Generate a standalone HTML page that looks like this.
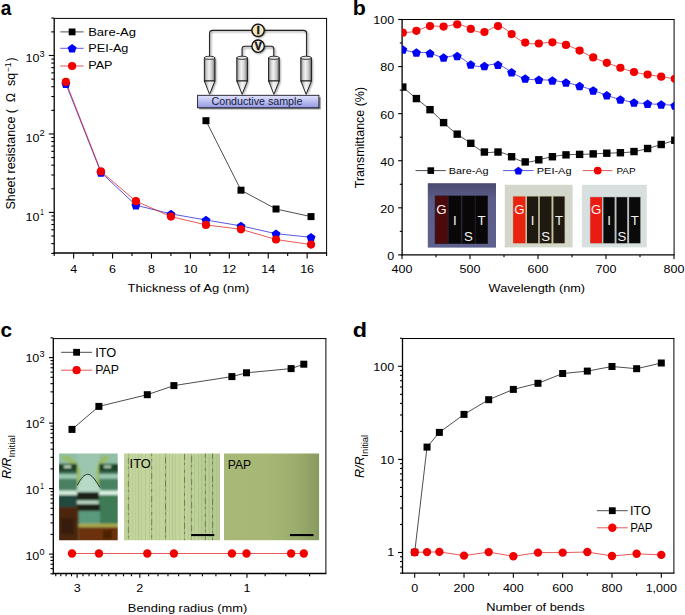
<!DOCTYPE html>
<html><head><meta charset="utf-8"><style>
html,body{margin:0;padding:0;background:#fff;overflow:hidden;}
svg{display:block;}
text{font-family:"Liberation Sans", sans-serif;}
</style></head><body>
<svg width="685" height="615" viewBox="0 0 685 615" font-family='"Liberation Sans", sans-serif'>
<rect width="685" height="615" fill="#fff"/>
<line x1="54.20" y1="17.90" x2="54.20" y2="253.65" stroke="#000" stroke-width="1.3"/>
<line x1="53.55" y1="253.00" x2="327.10" y2="253.00" stroke="#000" stroke-width="1.3"/>
<line x1="54.20" y1="18.40" x2="327.10" y2="18.40" stroke="#000" stroke-width="1.0"/>
<line x1="326.60" y1="18.40" x2="326.60" y2="253.00" stroke="#000" stroke-width="1.0"/>
<line x1="73.66" y1="253.00" x2="73.66" y2="258.40" stroke="#000" stroke-width="1.1"/>
<line x1="112.57" y1="253.00" x2="112.57" y2="258.40" stroke="#000" stroke-width="1.1"/>
<line x1="151.49" y1="253.00" x2="151.49" y2="258.40" stroke="#000" stroke-width="1.1"/>
<line x1="190.40" y1="253.00" x2="190.40" y2="258.40" stroke="#000" stroke-width="1.1"/>
<line x1="229.31" y1="253.00" x2="229.31" y2="258.40" stroke="#000" stroke-width="1.1"/>
<line x1="268.23" y1="253.00" x2="268.23" y2="258.40" stroke="#000" stroke-width="1.1"/>
<line x1="307.14" y1="253.00" x2="307.14" y2="258.40" stroke="#000" stroke-width="1.1"/>
<line x1="54.20" y1="253.00" x2="54.20" y2="255.90" stroke="#000" stroke-width="1.1"/>
<line x1="93.11" y1="253.00" x2="93.11" y2="255.90" stroke="#000" stroke-width="1.1"/>
<line x1="132.03" y1="253.00" x2="132.03" y2="255.90" stroke="#000" stroke-width="1.1"/>
<line x1="170.94" y1="253.00" x2="170.94" y2="255.90" stroke="#000" stroke-width="1.1"/>
<line x1="209.86" y1="253.00" x2="209.86" y2="255.90" stroke="#000" stroke-width="1.1"/>
<line x1="248.77" y1="253.00" x2="248.77" y2="255.90" stroke="#000" stroke-width="1.1"/>
<line x1="287.68" y1="253.00" x2="287.68" y2="255.90" stroke="#000" stroke-width="1.1"/>
<line x1="326.60" y1="253.00" x2="326.60" y2="255.90" stroke="#000" stroke-width="1.1"/>
<line x1="48.80" y1="212.40" x2="54.20" y2="212.40" stroke="#000" stroke-width="1.1"/>
<line x1="48.80" y1="133.95" x2="54.20" y2="133.95" stroke="#000" stroke-width="1.1"/>
<line x1="48.80" y1="55.50" x2="54.20" y2="55.50" stroke="#000" stroke-width="1.1"/>
<line x1="51.30" y1="253.42" x2="54.20" y2="253.42" stroke="#000" stroke-width="1.1"/>
<line x1="51.30" y1="243.62" x2="54.20" y2="243.62" stroke="#000" stroke-width="1.1"/>
<line x1="51.30" y1="236.02" x2="54.20" y2="236.02" stroke="#000" stroke-width="1.1"/>
<line x1="51.30" y1="229.80" x2="54.20" y2="229.80" stroke="#000" stroke-width="1.1"/>
<line x1="51.30" y1="224.55" x2="54.20" y2="224.55" stroke="#000" stroke-width="1.1"/>
<line x1="51.30" y1="220.00" x2="54.20" y2="220.00" stroke="#000" stroke-width="1.1"/>
<line x1="51.30" y1="215.99" x2="54.20" y2="215.99" stroke="#000" stroke-width="1.1"/>
<line x1="51.30" y1="188.78" x2="54.20" y2="188.78" stroke="#000" stroke-width="1.1"/>
<line x1="51.30" y1="174.97" x2="54.20" y2="174.97" stroke="#000" stroke-width="1.1"/>
<line x1="51.30" y1="165.17" x2="54.20" y2="165.17" stroke="#000" stroke-width="1.1"/>
<line x1="51.30" y1="157.57" x2="54.20" y2="157.57" stroke="#000" stroke-width="1.1"/>
<line x1="51.30" y1="151.35" x2="54.20" y2="151.35" stroke="#000" stroke-width="1.1"/>
<line x1="51.30" y1="146.10" x2="54.20" y2="146.10" stroke="#000" stroke-width="1.1"/>
<line x1="51.30" y1="141.55" x2="54.20" y2="141.55" stroke="#000" stroke-width="1.1"/>
<line x1="51.30" y1="137.54" x2="54.20" y2="137.54" stroke="#000" stroke-width="1.1"/>
<line x1="51.30" y1="110.33" x2="54.20" y2="110.33" stroke="#000" stroke-width="1.1"/>
<line x1="51.30" y1="96.52" x2="54.20" y2="96.52" stroke="#000" stroke-width="1.1"/>
<line x1="51.30" y1="86.72" x2="54.20" y2="86.72" stroke="#000" stroke-width="1.1"/>
<line x1="51.30" y1="79.12" x2="54.20" y2="79.12" stroke="#000" stroke-width="1.1"/>
<line x1="51.30" y1="72.90" x2="54.20" y2="72.90" stroke="#000" stroke-width="1.1"/>
<line x1="51.30" y1="67.65" x2="54.20" y2="67.65" stroke="#000" stroke-width="1.1"/>
<line x1="51.30" y1="63.10" x2="54.20" y2="63.10" stroke="#000" stroke-width="1.1"/>
<line x1="51.30" y1="59.09" x2="54.20" y2="59.09" stroke="#000" stroke-width="1.1"/>
<line x1="51.30" y1="31.88" x2="54.20" y2="31.88" stroke="#000" stroke-width="1.1"/>
<line x1="51.30" y1="18.07" x2="54.20" y2="18.07" stroke="#000" stroke-width="1.1"/>
<text x="73.66" y="272.70" font-size="11.80" text-anchor="middle" fill="#000" textLength="6.96" lengthAdjust="spacingAndGlyphs" xml:space="preserve">4</text>
<text x="112.57" y="272.70" font-size="11.80" text-anchor="middle" fill="#000" textLength="6.96" lengthAdjust="spacingAndGlyphs" xml:space="preserve">6</text>
<text x="151.49" y="272.70" font-size="11.80" text-anchor="middle" fill="#000" textLength="6.96" lengthAdjust="spacingAndGlyphs" xml:space="preserve">8</text>
<text x="190.40" y="272.70" font-size="11.80" text-anchor="middle" fill="#000" textLength="13.91" lengthAdjust="spacingAndGlyphs" xml:space="preserve">10</text>
<text x="229.31" y="272.70" font-size="11.80" text-anchor="middle" fill="#000" textLength="13.91" lengthAdjust="spacingAndGlyphs" xml:space="preserve">12</text>
<text x="268.23" y="272.70" font-size="11.80" text-anchor="middle" fill="#000" textLength="13.91" lengthAdjust="spacingAndGlyphs" xml:space="preserve">14</text>
<text x="307.14" y="272.70" font-size="11.80" text-anchor="middle" fill="#000" textLength="13.91" lengthAdjust="spacingAndGlyphs" xml:space="preserve">16</text>
<text x="39.43" y="62.10" font-size="11.80" text-anchor="end" fill="#000" textLength="13.91" lengthAdjust="spacingAndGlyphs" xml:space="preserve">10</text>
<text x="39.63" y="57.00" font-size="8.80" text-anchor="start" fill="#000" textLength="5.09" lengthAdjust="spacingAndGlyphs" xml:space="preserve">3</text>
<text x="39.43" y="141.50" font-size="11.80" text-anchor="end" fill="#000" textLength="13.91" lengthAdjust="spacingAndGlyphs" xml:space="preserve">10</text>
<text x="39.53" y="136.40" font-size="8.80" text-anchor="start" fill="#000" textLength="5.26" lengthAdjust="spacingAndGlyphs" xml:space="preserve">2</text>
<text x="39.43" y="220.80" font-size="11.80" text-anchor="end" fill="#000" textLength="13.91" lengthAdjust="spacingAndGlyphs" xml:space="preserve">10</text>
<text x="40.21" y="215.20" font-size="8.80" text-anchor="start" fill="#000" textLength="3.62" lengthAdjust="spacingAndGlyphs" xml:space="preserve">1</text>
<text x="0.73" y="15.10" font-size="21.00" text-anchor="start" font-weight="bold" fill="#000" textLength="10.60" lengthAdjust="spacingAndGlyphs" xml:space="preserve">a</text>
<text x="15.40" y="209.56" font-size="12.00" text-anchor="start" fill="#000" transform="rotate(-90 15.40 209.56)" textLength="136.87" lengthAdjust="spacingAndGlyphs" xml:space="preserve">Sheet resistance (  Ω  sq</text>
<text x="11.00" y="71.80" font-size="8.20" text-anchor="start" fill="#000" transform="rotate(-90 11.00 71.80)" textLength="9.21" lengthAdjust="spacingAndGlyphs" xml:space="preserve">−1</text>
<text x="15.40" y="61.22" font-size="12.00" text-anchor="start" fill="#000" transform="rotate(-90 15.40 61.22)" textLength="3.84" lengthAdjust="spacingAndGlyphs" xml:space="preserve">)</text>
<text x="127.54" y="291.60" font-size="11.80" text-anchor="start" fill="#000" textLength="121.87" lengthAdjust="spacingAndGlyphs" xml:space="preserve">Thickness of Ag (nm)</text>
<polyline points="205.96,120.70 240.99,190.20 276.01,209.00 311.03,216.60" fill="none" stroke="#000" stroke-width="0.7" stroke-linejoin="round"/>
<polyline points="65.87,83.80 100.90,172.40 135.92,205.20 170.94,213.90 205.96,220.00 240.99,225.90 276.01,233.70 311.03,237.30" fill="none" stroke="#1010dc" stroke-width="0.7" stroke-linejoin="round"/>
<polyline points="65.87,81.90 100.90,171.40 135.92,201.20 170.94,216.60 205.96,224.90 240.99,229.30 276.01,239.50 311.03,244.60" fill="none" stroke="#dc1010" stroke-width="0.7" stroke-linejoin="round"/>
<rect x="202.46" y="117.20" width="7.0" height="7.0" fill="#000"/>
<rect x="237.49" y="186.70" width="7.0" height="7.0" fill="#000"/>
<rect x="272.51" y="205.50" width="7.0" height="7.0" fill="#000"/>
<rect x="307.53" y="213.10" width="7.0" height="7.0" fill="#000"/>
<polygon points="65.87,79.57 70.34,82.82 68.64,88.07 63.11,88.07 61.40,82.82" fill="#0000f2"/>
<polygon points="100.90,168.17 105.37,171.42 103.66,176.67 98.13,176.67 96.43,171.42" fill="#0000f2"/>
<polygon points="135.92,200.97 140.39,204.22 138.68,209.47 133.16,209.47 131.45,204.22" fill="#0000f2"/>
<polygon points="170.94,209.67 175.41,212.92 173.70,218.17 168.18,218.17 166.47,212.92" fill="#0000f2"/>
<polygon points="205.96,215.77 210.43,219.02 208.73,224.27 203.20,224.27 201.49,219.02" fill="#0000f2"/>
<polygon points="240.99,221.67 245.46,224.92 243.75,230.17 238.22,230.17 236.52,224.92" fill="#0000f2"/>
<polygon points="276.01,229.47 280.48,232.72 278.77,237.97 273.25,237.97 271.54,232.72" fill="#0000f2"/>
<polygon points="311.03,233.07 315.50,236.32 313.79,241.57 308.27,241.57 306.56,236.32" fill="#0000f2"/>
<circle cx="65.87" cy="81.90" r="4.1" fill="#f20000"/>
<circle cx="100.90" cy="171.40" r="4.1" fill="#f20000"/>
<circle cx="135.92" cy="201.20" r="4.1" fill="#f20000"/>
<circle cx="170.94" cy="216.60" r="4.1" fill="#f20000"/>
<circle cx="205.96" cy="224.90" r="4.1" fill="#f20000"/>
<circle cx="240.99" cy="229.30" r="4.1" fill="#f20000"/>
<circle cx="276.01" cy="239.50" r="4.1" fill="#f20000"/>
<circle cx="311.03" cy="244.60" r="4.1" fill="#f20000"/>
<line x1="60.30" y1="31.90" x2="83.60" y2="31.90" stroke="#000" stroke-width="0.7"/>
<rect x="68.70" y="28.50" width="6.8" height="6.8" fill="#000"/>
<line x1="60.30" y1="48.30" x2="83.60" y2="48.30" stroke="#1010dc" stroke-width="0.7"/>
<polygon points="72.10,44.07 76.57,47.32 74.86,52.57 69.34,52.57 67.63,47.32" fill="#0000f2"/>
<line x1="60.30" y1="66.00" x2="83.60" y2="66.00" stroke="#dc1010" stroke-width="0.7"/>
<circle cx="72.10" cy="66.00" r="4.1" fill="#f20000"/>
<text x="88.16" y="36.20" font-size="11.70" text-anchor="start" fill="#000" textLength="47.77" lengthAdjust="spacingAndGlyphs" xml:space="preserve">Bare-Ag</text>
<text x="88.18" y="52.30" font-size="11.70" text-anchor="start" fill="#000" textLength="40.28" lengthAdjust="spacingAndGlyphs" xml:space="preserve">PEI-Ag</text>
<text x="88.19" y="69.00" font-size="11.70" text-anchor="start" fill="#000" textLength="24.37" lengthAdjust="spacingAndGlyphs" xml:space="preserve">PAP</text>
<defs>
<linearGradient id="cyl" x1="0" x2="1" y1="0" y2="0">
<stop offset="0" stop-color="#7a7a7a"/><stop offset="0.22" stop-color="#cfcfcf"/><stop offset="0.45" stop-color="#f2f2f2"/><stop offset="0.75" stop-color="#c4c4c4"/><stop offset="1" stop-color="#6a6a6a"/></linearGradient>
<linearGradient id="samp" x1="0" x2="0" y1="0" y2="1">
<stop offset="0" stop-color="#e2e4fc"/><stop offset="1" stop-color="#9198e2"/></linearGradient>
<linearGradient id="cone" x1="0" x2="1" y1="0" y2="0">
<stop offset="0" stop-color="#8a8a8a"/><stop offset="0.45" stop-color="#f4f4f4"/><stop offset="1" stop-color="#dcdcdc"/></linearGradient>
<filter id="shd" x="-30%" y="-10%" width="160%" height="130%"><feGaussianBlur stdDeviation="0.8"/></filter>
</defs>
<g filter="url(#shd)" opacity="0.55"><path d="M210.6,57 L210.6,34.5 Q210.6,31.4 213.7,31.4 L304.4,31.4 Q307.6,31.4 307.6,34.5 L307.6,57" fill="none" stroke="#222" stroke-width="1.2"/><path d="M243.1,57 L243.1,50.5 Q243.1,47.7 245.9,47.7 L272.0,47.7 Q274.8,47.7 274.8,50.5 L274.8,57" fill="none" stroke="#222" stroke-width="1.2"/></g>
<path d="M209.6,57 L209.6,33.5 Q209.6,30.4 212.7,30.4 L303.4,30.4 Q306.6,30.4 306.6,33.5 L306.6,57" fill="none" stroke="#222" stroke-width="1.1"/>
<path d="M242.1,57 L242.1,49.1 Q242.1,46.3 244.9,46.3 L271.0,46.3 Q273.8,46.3 273.8,49.1 L273.8,57" fill="none" stroke="#222" stroke-width="1.1"/>
<path d="M205.50,59 L216.10,59 L216.10,82 L210.80,95.5 Z" fill="#000" opacity="0.45" filter="url(#shd)"/>
<rect x="204.30" y="57.8" width="10.6" height="23.2" fill="url(#cyl)" stroke="#111" stroke-width="0.9"/>
<ellipse cx="209.60" cy="57.8" rx="5.30" ry="1.6" fill="#e4e4e4" stroke="#111" stroke-width="0.8"/>
<path d="M204.30,81.0 L214.90,81.0 L209.60,94.3 Z" fill="url(#cone)" stroke="#111" stroke-width="0.9" stroke-linejoin="round"/>
<path d="M238.00,59 L248.60,59 L248.60,82 L243.30,95.5 Z" fill="#000" opacity="0.45" filter="url(#shd)"/>
<rect x="236.80" y="57.8" width="10.6" height="23.2" fill="url(#cyl)" stroke="#111" stroke-width="0.9"/>
<ellipse cx="242.10" cy="57.8" rx="5.30" ry="1.6" fill="#e4e4e4" stroke="#111" stroke-width="0.8"/>
<path d="M236.80,81.0 L247.40,81.0 L242.10,94.3 Z" fill="url(#cone)" stroke="#111" stroke-width="0.9" stroke-linejoin="round"/>
<path d="M269.80,59 L280.40,59 L280.40,82 L275.10,95.5 Z" fill="#000" opacity="0.45" filter="url(#shd)"/>
<rect x="268.60" y="57.8" width="10.6" height="23.2" fill="url(#cyl)" stroke="#111" stroke-width="0.9"/>
<ellipse cx="273.90" cy="57.8" rx="5.30" ry="1.6" fill="#e4e4e4" stroke="#111" stroke-width="0.8"/>
<path d="M268.60,81.0 L279.20,81.0 L273.90,94.3 Z" fill="url(#cone)" stroke="#111" stroke-width="0.9" stroke-linejoin="round"/>
<path d="M302.00,59 L312.60,59 L312.60,82 L307.30,95.5 Z" fill="#000" opacity="0.45" filter="url(#shd)"/>
<rect x="300.80" y="57.8" width="10.6" height="23.2" fill="url(#cyl)" stroke="#111" stroke-width="0.9"/>
<ellipse cx="306.10" cy="57.8" rx="5.30" ry="1.6" fill="#e4e4e4" stroke="#111" stroke-width="0.8"/>
<path d="M300.80,81.0 L311.40,81.0 L306.10,94.3 Z" fill="url(#cone)" stroke="#111" stroke-width="0.9" stroke-linejoin="round"/>
<rect x="199.2" y="97.2" width="121.5" height="12.2" fill="#222" opacity="0.55"/>
<rect x="197.6" y="95.3" width="121.3" height="12.5" fill="url(#samp)" stroke="#1a1a2a" stroke-width="0.9"/>
<text x="211.47" y="105.00" font-size="10.60" text-anchor="start" fill="#141a40" textLength="90.91" lengthAdjust="spacingAndGlyphs" xml:space="preserve">Conductive sample</text>
<circle cx="259.0" cy="31.3" r="6.4" fill="#000" opacity="0.5" filter="url(#shd)"/>
<circle cx="258.1" cy="30.3" r="6.2" fill="#f5e6bc" stroke="#111" stroke-width="1.4"/>
<text x="258.1" y="34.00" font-size="10.4" text-anchor="middle" font-weight="bold" fill="#111" stroke="#111" stroke-width="0.5">I</text>
<circle cx="259.0" cy="47.2" r="6.4" fill="#000" opacity="0.5" filter="url(#shd)"/>
<circle cx="258.1" cy="46.2" r="6.2" fill="#f5f0de" stroke="#111" stroke-width="1.4"/>
<text x="258.1" y="49.90" font-size="10.4" text-anchor="middle" font-weight="bold" fill="#111" stroke="#111" stroke-width="0.5">V</text>
<defs><clipPath id="clipb"><rect x="402.1" y="19.5" width="272.0" height="235.4"/></clipPath></defs>
<line x1="402.10" y1="19.00" x2="402.10" y2="255.55" stroke="#000" stroke-width="1.3"/>
<line x1="401.45" y1="254.90" x2="674.60" y2="254.90" stroke="#000" stroke-width="1.3"/>
<line x1="402.10" y1="19.50" x2="674.60" y2="19.50" stroke="#000" stroke-width="1.0"/>
<line x1="674.10" y1="19.50" x2="674.10" y2="254.90" stroke="#000" stroke-width="1.0"/>
<line x1="402.00" y1="254.90" x2="402.00" y2="258.90" stroke="#000" stroke-width="1.1"/>
<line x1="470.00" y1="254.90" x2="470.00" y2="258.90" stroke="#000" stroke-width="1.1"/>
<line x1="538.00" y1="254.90" x2="538.00" y2="258.90" stroke="#000" stroke-width="1.1"/>
<line x1="606.00" y1="254.90" x2="606.00" y2="258.90" stroke="#000" stroke-width="1.1"/>
<line x1="674.00" y1="254.90" x2="674.00" y2="258.90" stroke="#000" stroke-width="1.1"/>
<line x1="436.00" y1="254.90" x2="436.00" y2="257.20" stroke="#000" stroke-width="1.1"/>
<line x1="504.00" y1="254.90" x2="504.00" y2="257.20" stroke="#000" stroke-width="1.1"/>
<line x1="572.00" y1="254.90" x2="572.00" y2="257.20" stroke="#000" stroke-width="1.1"/>
<line x1="640.00" y1="254.90" x2="640.00" y2="257.20" stroke="#000" stroke-width="1.1"/>
<line x1="398.10" y1="254.90" x2="402.10" y2="254.90" stroke="#000" stroke-width="1.1"/>
<line x1="398.10" y1="207.82" x2="402.10" y2="207.82" stroke="#000" stroke-width="1.1"/>
<line x1="398.10" y1="160.74" x2="402.10" y2="160.74" stroke="#000" stroke-width="1.1"/>
<line x1="398.10" y1="113.66" x2="402.10" y2="113.66" stroke="#000" stroke-width="1.1"/>
<line x1="398.10" y1="66.58" x2="402.10" y2="66.58" stroke="#000" stroke-width="1.1"/>
<line x1="398.10" y1="19.50" x2="402.10" y2="19.50" stroke="#000" stroke-width="1.1"/>
<line x1="399.80" y1="231.36" x2="402.10" y2="231.36" stroke="#000" stroke-width="1.1"/>
<line x1="399.80" y1="184.28" x2="402.10" y2="184.28" stroke="#000" stroke-width="1.1"/>
<line x1="399.80" y1="137.20" x2="402.10" y2="137.20" stroke="#000" stroke-width="1.1"/>
<line x1="399.80" y1="90.12" x2="402.10" y2="90.12" stroke="#000" stroke-width="1.1"/>
<line x1="399.80" y1="43.04" x2="402.10" y2="43.04" stroke="#000" stroke-width="1.1"/>
<text x="402.00" y="272.80" font-size="11.80" text-anchor="middle" fill="#000" textLength="20.87" lengthAdjust="spacingAndGlyphs" xml:space="preserve">400</text>
<text x="470.00" y="272.80" font-size="11.80" text-anchor="middle" fill="#000" textLength="20.87" lengthAdjust="spacingAndGlyphs" xml:space="preserve">500</text>
<text x="538.00" y="272.80" font-size="11.80" text-anchor="middle" fill="#000" textLength="20.87" lengthAdjust="spacingAndGlyphs" xml:space="preserve">600</text>
<text x="606.00" y="272.80" font-size="11.80" text-anchor="middle" fill="#000" textLength="20.87" lengthAdjust="spacingAndGlyphs" xml:space="preserve">700</text>
<text x="674.00" y="272.80" font-size="11.80" text-anchor="middle" fill="#000" textLength="20.87" lengthAdjust="spacingAndGlyphs" xml:space="preserve">800</text>
<text x="394.11" y="259.80" font-size="11.80" text-anchor="end" fill="#000" textLength="6.96" lengthAdjust="spacingAndGlyphs" xml:space="preserve">0</text>
<text x="394.13" y="212.72" font-size="11.80" text-anchor="end" fill="#000" textLength="13.91" lengthAdjust="spacingAndGlyphs" xml:space="preserve">20</text>
<text x="394.13" y="165.64" font-size="11.80" text-anchor="end" fill="#000" textLength="13.91" lengthAdjust="spacingAndGlyphs" xml:space="preserve">40</text>
<text x="394.13" y="118.56" font-size="11.80" text-anchor="end" fill="#000" textLength="13.91" lengthAdjust="spacingAndGlyphs" xml:space="preserve">60</text>
<text x="394.13" y="71.48" font-size="11.80" text-anchor="end" fill="#000" textLength="13.91" lengthAdjust="spacingAndGlyphs" xml:space="preserve">80</text>
<text x="394.14" y="24.40" font-size="11.80" text-anchor="end" fill="#000" textLength="20.87" lengthAdjust="spacingAndGlyphs" xml:space="preserve">100</text>
<text x="364.30" y="188.25" font-size="11.90" text-anchor="start" fill="#000" transform="rotate(-90 364.30 188.25)" textLength="101.32" lengthAdjust="spacingAndGlyphs" xml:space="preserve">Transmittance (%)</text>
<text x="488.64" y="291.70" font-size="11.80" text-anchor="start" fill="#000" textLength="96.45" lengthAdjust="spacingAndGlyphs" xml:space="preserve">Wavelength (nm)</text>
<text x="352.71" y="15.10" font-size="20.50" text-anchor="start" font-weight="bold" fill="#000" textLength="13.06" lengthAdjust="spacingAndGlyphs" xml:space="preserve">b</text>
<g clip-path="url(#clipb)">
<polyline points="402.80,87.06 404.50,88.54 406.20,90.01 407.90,91.47 409.60,92.93 411.30,94.37 413.00,95.80 414.70,97.21 416.40,98.59 418.10,99.96 419.80,101.30 421.50,102.65 423.20,104.00 424.90,105.36 426.60,106.75 428.30,108.18 430.00,109.66 431.70,111.19 433.40,112.77 435.10,114.38 436.80,116.02 438.50,117.68 440.20,119.33 441.90,120.98 443.60,122.61 445.30,124.20 447.00,125.76 448.70,127.28 450.40,128.76 452.10,130.19 453.80,131.56 455.50,132.88 457.20,134.14 458.90,135.34 460.60,136.48 462.30,137.60 464.00,138.70 465.70,139.81 467.40,140.94 469.10,142.10 470.80,143.32 472.50,144.60 474.20,145.91 475.90,147.21 477.60,148.45 479.30,149.60 481.00,150.60 482.70,151.43 484.40,152.03 486.10,152.38 487.80,152.53 489.50,152.51 491.20,152.40 492.90,152.24 494.60,152.09 496.30,152.00 498.00,152.03 499.70,152.22 501.40,152.57 503.10,153.05 504.80,153.64 506.50,154.33 508.20,155.08 509.90,155.89 511.60,156.74 513.30,157.59 515.00,158.44 516.70,159.24 518.40,159.99 520.10,160.66 521.80,161.22 523.50,161.64 525.20,161.92 526.90,162.02 528.60,161.97 530.30,161.78 532.00,161.50 533.70,161.13 535.40,160.71 537.10,160.26 538.80,159.80 540.50,159.35 542.20,158.93 543.90,158.52 545.60,158.13 547.30,157.76 549.00,157.40 550.70,157.06 552.40,156.74 554.10,156.43 555.80,156.14 557.50,155.86 559.20,155.61 560.90,155.38 562.60,155.18 564.30,155.00 566.00,154.86 567.70,154.74 569.40,154.64 571.10,154.57 572.80,154.52 574.50,154.48 576.20,154.45 577.90,154.42 579.60,154.38 581.30,154.35 583.00,154.30 584.70,154.25 586.40,154.20 588.10,154.14 589.80,154.07 591.50,153.99 593.20,153.91 594.90,153.83 596.60,153.74 598.30,153.64 600.00,153.55 601.70,153.46 603.40,153.37 605.10,153.28 606.80,153.21 608.50,153.14 610.20,153.08 611.90,153.02 613.60,152.97 615.30,152.92 617.00,152.86 618.70,152.80 620.40,152.74 622.10,152.66 623.80,152.57 625.50,152.47 627.20,152.34 628.90,152.19 630.60,152.01 632.30,151.80 634.00,151.56 635.70,151.28 637.40,150.96 639.10,150.61 640.80,150.23 642.50,149.83 644.20,149.40 645.90,148.96 647.60,148.50 649.30,148.03 651.00,147.55 652.70,147.05 654.40,146.56 656.10,146.05 657.80,145.54 659.50,145.02 661.20,144.50 662.90,143.97 664.60,143.45 666.30,142.92 668.00,142.39 669.70,141.86 671.40,141.33 673.10,140.79 674.80,140.26" fill="none" stroke="#000" stroke-width="0.7" stroke-linejoin="round"/>
<rect x="399.10" y="83.36" width="7.4" height="7.4" fill="#000"/>
<rect x="412.70" y="94.89" width="7.4" height="7.4" fill="#000"/>
<rect x="426.30" y="105.96" width="7.4" height="7.4" fill="#000"/>
<rect x="439.90" y="118.91" width="7.4" height="7.4" fill="#000"/>
<rect x="453.50" y="130.44" width="7.4" height="7.4" fill="#000"/>
<rect x="467.10" y="139.62" width="7.4" height="7.4" fill="#000"/>
<rect x="480.70" y="148.33" width="7.4" height="7.4" fill="#000"/>
<rect x="494.30" y="148.33" width="7.4" height="7.4" fill="#000"/>
<rect x="507.90" y="153.04" width="7.4" height="7.4" fill="#000"/>
<rect x="521.50" y="158.22" width="7.4" height="7.4" fill="#000"/>
<rect x="535.10" y="156.10" width="7.4" height="7.4" fill="#000"/>
<rect x="548.70" y="153.04" width="7.4" height="7.4" fill="#000"/>
<rect x="562.30" y="151.16" width="7.4" height="7.4" fill="#000"/>
<rect x="575.90" y="150.68" width="7.4" height="7.4" fill="#000"/>
<rect x="589.50" y="150.21" width="7.4" height="7.4" fill="#000"/>
<rect x="603.10" y="149.51" width="7.4" height="7.4" fill="#000"/>
<rect x="616.70" y="149.04" width="7.4" height="7.4" fill="#000"/>
<rect x="630.30" y="147.86" width="7.4" height="7.4" fill="#000"/>
<rect x="643.90" y="144.80" width="7.4" height="7.4" fill="#000"/>
<rect x="657.50" y="140.80" width="7.4" height="7.4" fill="#000"/>
<rect x="671.10" y="136.56" width="7.4" height="7.4" fill="#000"/>
<polyline points="402.80,49.40 404.50,49.91 406.20,50.41 407.90,50.88 409.60,51.32 411.30,51.71 413.00,52.04 414.70,52.29 416.40,52.46 418.10,52.53 419.80,52.54 421.50,52.52 423.20,52.51 424.90,52.53 426.60,52.62 428.30,52.82 430.00,53.16 431.70,53.66 433.40,54.28 435.10,54.96 436.80,55.65 438.50,56.29 440.20,56.83 441.90,57.22 443.60,57.40 445.30,57.33 447.00,57.08 448.70,56.72 450.40,56.32 452.10,55.97 453.80,55.75 455.50,55.73 457.20,55.99 458.90,56.58 460.60,57.45 462.30,58.54 464.00,59.75 465.70,61.03 467.40,62.29 469.10,63.46 470.80,64.46 472.50,65.24 474.20,65.80 475.90,66.17 477.60,66.36 479.30,66.41 481.00,66.33 482.70,66.14 484.40,65.87 486.10,65.55 487.80,65.20 489.50,64.87 491.20,64.59 492.90,64.39 494.60,64.32 496.30,64.41 498.00,64.70 499.70,65.20 501.40,65.91 503.10,66.77 504.80,67.76 506.50,68.84 508.20,69.97 509.90,71.11 511.60,72.23 513.30,73.30 515.00,74.30 516.70,75.23 518.40,76.08 520.10,76.85 521.80,77.53 523.50,78.11 525.20,78.59 526.90,78.96 528.60,79.24 530.30,79.44 532.00,79.57 533.70,79.66 535.40,79.71 537.10,79.74 538.80,79.76 540.50,79.79 542.20,79.84 543.90,79.90 545.60,79.97 547.30,80.06 549.00,80.17 550.70,80.31 552.40,80.47 554.10,80.65 555.80,80.87 557.50,81.10 559.20,81.36 560.90,81.64 562.60,81.94 564.30,82.25 566.00,82.59 567.70,82.94 569.40,83.30 571.10,83.69 572.80,84.09 574.50,84.51 576.20,84.94 577.90,85.40 579.60,85.88 581.30,86.38 583.00,86.90 584.70,87.44 586.40,88.00 588.10,88.57 589.80,89.15 591.50,89.75 593.20,90.36 594.90,90.97 596.60,91.59 598.30,92.22 600.00,92.84 601.70,93.47 603.40,94.09 605.10,94.70 606.80,95.30 608.50,95.89 610.20,96.46 611.90,97.02 613.60,97.56 615.30,98.09 617.00,98.59 618.70,99.08 620.40,99.54 622.10,99.97 623.80,100.39 625.50,100.77 627.20,101.14 628.90,101.48 630.60,101.80 632.30,102.09 634.00,102.36 635.70,102.61 637.40,102.83 639.10,103.03 640.80,103.21 642.50,103.38 644.20,103.52 645.90,103.66 647.60,103.77 649.30,103.88 651.00,103.97 652.70,104.06 654.40,104.14 656.10,104.22 657.80,104.30 659.50,104.39 661.20,104.48 662.90,104.58 664.60,104.68 666.30,104.80 668.00,104.92 669.70,105.04 671.40,105.16 673.10,105.29 674.80,105.42" fill="none" stroke="#1010dc" stroke-width="0.7" stroke-linejoin="round"/>
<polygon points="402.80,45.17 407.27,48.41 405.56,53.67 400.04,53.67 398.33,48.41" fill="#0000f2"/>
<polygon points="416.40,48.23 420.87,51.47 419.16,56.73 413.64,56.73 411.93,51.47" fill="#0000f2"/>
<polygon points="430.00,48.93 434.47,52.18 432.76,57.43 427.24,57.43 425.53,52.18" fill="#0000f2"/>
<polygon points="443.60,53.17 448.07,56.42 446.36,61.67 440.84,61.67 439.13,56.42" fill="#0000f2"/>
<polygon points="457.20,51.76 461.67,55.00 459.96,60.26 454.44,60.26 452.73,55.00" fill="#0000f2"/>
<polygon points="470.80,60.23 475.27,63.48 473.56,68.73 468.04,68.73 466.33,63.48" fill="#0000f2"/>
<polygon points="484.40,61.64 488.87,64.89 487.16,70.15 481.64,70.15 479.93,64.89" fill="#0000f2"/>
<polygon points="498.00,60.47 502.47,63.71 500.76,68.97 495.24,68.97 493.53,63.71" fill="#0000f2"/>
<polygon points="511.60,68.00 516.07,71.25 514.36,76.50 508.84,76.50 507.13,71.25" fill="#0000f2"/>
<polygon points="525.20,74.36 529.67,77.60 527.96,82.86 522.44,82.86 520.73,77.60" fill="#0000f2"/>
<polygon points="538.80,75.53 543.27,78.78 541.56,84.03 536.04,84.03 534.33,78.78" fill="#0000f2"/>
<polygon points="552.40,76.24 556.87,79.49 555.16,84.74 549.64,84.74 547.93,79.49" fill="#0000f2"/>
<polygon points="566.00,78.36 570.47,81.60 568.76,86.86 563.24,86.86 561.53,81.60" fill="#0000f2"/>
<polygon points="579.60,81.65 584.07,84.90 582.36,90.16 576.84,90.16 575.13,84.90" fill="#0000f2"/>
<polygon points="593.20,86.13 597.67,89.37 595.96,94.63 590.44,94.63 588.73,89.37" fill="#0000f2"/>
<polygon points="606.80,91.07 611.27,94.32 609.56,99.57 604.04,99.57 602.33,94.32" fill="#0000f2"/>
<polygon points="620.40,95.31 624.87,98.55 623.16,103.81 617.64,103.81 615.93,98.55" fill="#0000f2"/>
<polygon points="634.00,98.13 638.47,101.38 636.76,106.63 631.24,106.63 629.53,101.38" fill="#0000f2"/>
<polygon points="647.60,99.54 652.07,102.79 650.36,108.05 644.84,108.05 643.13,102.79" fill="#0000f2"/>
<polygon points="661.20,100.25 665.67,103.50 663.96,108.75 658.44,108.75 656.73,103.50" fill="#0000f2"/>
<polygon points="674.80,101.19 679.27,104.44 677.56,109.69 672.04,109.69 670.33,104.44" fill="#0000f2"/>
<polyline points="402.80,32.68 404.50,32.60 406.20,32.50 407.90,32.37 409.60,32.19 411.30,31.97 413.00,31.67 414.70,31.28 416.40,30.80 418.10,30.21 419.80,29.55 421.50,28.85 423.20,28.14 424.90,27.48 426.60,26.89 428.30,26.42 430.00,26.09 431.70,25.94 433.40,25.94 435.10,26.04 436.80,26.20 438.50,26.37 440.20,26.52 441.90,26.60 443.60,26.56 445.30,26.38 447.00,26.09 448.70,25.73 450.40,25.35 452.10,24.99 453.80,24.68 455.50,24.49 457.20,24.44 458.90,24.58 460.60,24.89 462.30,25.34 464.00,25.92 465.70,26.58 467.40,27.32 469.10,28.11 470.80,28.92 472.50,29.72 474.20,30.48 475.90,31.15 477.60,31.71 479.30,32.11 481.00,32.32 482.70,32.28 484.40,31.98 486.10,31.38 487.80,30.56 489.50,29.61 491.20,28.62 492.90,27.68 494.60,26.88 496.30,26.32 498.00,26.09 499.70,26.25 501.40,26.77 503.10,27.58 504.80,28.64 506.50,29.88 508.20,31.24 509.90,32.67 511.60,34.09 513.30,35.48 515.00,36.79 516.70,38.03 518.40,39.17 520.10,40.21 521.80,41.13 523.50,41.92 525.20,42.57 526.90,43.07 528.60,43.43 530.30,43.66 532.00,43.79 533.70,43.82 535.40,43.78 537.10,43.67 538.80,43.51 540.50,43.32 542.20,43.12 543.90,42.91 545.60,42.71 547.30,42.54 549.00,42.41 550.70,42.34 552.40,42.33 554.10,42.41 555.80,42.57 557.50,42.81 559.20,43.11 560.90,43.48 562.60,43.91 564.30,44.39 566.00,44.92 567.70,45.50 569.40,46.12 571.10,46.77 572.80,47.47 574.50,48.20 576.20,48.96 577.90,49.75 579.60,50.57 581.30,51.42 583.00,52.29 584.70,53.16 586.40,54.04 588.10,54.91 589.80,55.77 591.50,56.60 593.20,57.40 594.90,58.16 596.60,58.89 598.30,59.59 600.00,60.26 601.70,60.92 603.40,61.56 605.10,62.19 606.80,62.81 608.50,63.44 610.20,64.07 611.90,64.69 613.60,65.31 615.30,65.93 617.00,66.55 618.70,67.15 620.40,67.76 622.10,68.35 623.80,68.93 625.50,69.50 627.20,70.05 628.90,70.58 630.60,71.08 632.30,71.55 634.00,71.99 635.70,72.40 637.40,72.77 639.10,73.12 640.80,73.44 642.50,73.75 644.20,74.03 645.90,74.31 647.60,74.58 649.30,74.85 651.00,75.12 652.70,75.38 654.40,75.65 656.10,75.91 657.80,76.18 659.50,76.44 661.20,76.70 662.90,76.97 664.60,77.23 666.30,77.49 668.00,77.76 669.70,78.02 671.40,78.29 673.10,78.56 674.80,78.82" fill="none" stroke="#dc1010" stroke-width="0.7" stroke-linejoin="round"/>
<circle cx="402.80" cy="32.68" r="4.1" fill="#f20000"/>
<circle cx="416.40" cy="30.80" r="4.1" fill="#f20000"/>
<circle cx="430.00" cy="26.09" r="4.1" fill="#f20000"/>
<circle cx="443.60" cy="26.56" r="4.1" fill="#f20000"/>
<circle cx="457.20" cy="24.44" r="4.1" fill="#f20000"/>
<circle cx="470.80" cy="28.92" r="4.1" fill="#f20000"/>
<circle cx="484.40" cy="31.98" r="4.1" fill="#f20000"/>
<circle cx="498.00" cy="26.09" r="4.1" fill="#f20000"/>
<circle cx="511.60" cy="34.09" r="4.1" fill="#f20000"/>
<circle cx="525.20" cy="42.57" r="4.1" fill="#f20000"/>
<circle cx="538.80" cy="43.51" r="4.1" fill="#f20000"/>
<circle cx="552.40" cy="42.33" r="4.1" fill="#f20000"/>
<circle cx="566.00" cy="44.92" r="4.1" fill="#f20000"/>
<circle cx="579.60" cy="50.57" r="4.1" fill="#f20000"/>
<circle cx="593.20" cy="57.40" r="4.1" fill="#f20000"/>
<circle cx="606.80" cy="62.81" r="4.1" fill="#f20000"/>
<circle cx="620.40" cy="67.76" r="4.1" fill="#f20000"/>
<circle cx="634.00" cy="71.99" r="4.1" fill="#f20000"/>
<circle cx="647.60" cy="74.58" r="4.1" fill="#f20000"/>
<circle cx="661.20" cy="76.70" r="4.1" fill="#f20000"/>
<circle cx="674.80" cy="78.82" r="4.1" fill="#f20000"/>
</g>
<line x1="415.50" y1="170.60" x2="445.80" y2="170.60" stroke="#000" stroke-width="0.7"/>
<rect x="427.50" y="167.30" width="6.6" height="6.6" fill="#000"/>
<line x1="503.10" y1="170.60" x2="533.70" y2="170.60" stroke="#1010dc" stroke-width="0.7"/>
<polygon points="518.40,166.64 522.58,169.68 520.99,174.60 515.81,174.60 514.22,169.68" fill="#0000f2"/>
<line x1="582.80" y1="170.60" x2="612.40" y2="170.60" stroke="#dc1010" stroke-width="0.7"/>
<circle cx="597.70" cy="170.60" r="3.9" fill="#f20000"/>
<text x="448.84" y="174.40" font-size="9.90" text-anchor="start" fill="#000" textLength="39.65" lengthAdjust="spacingAndGlyphs" xml:space="preserve">Bare-Ag</text>
<text x="536.82" y="174.40" font-size="9.90" text-anchor="start" fill="#000" textLength="34.72" lengthAdjust="spacingAndGlyphs" xml:space="preserve">PEI-Ag</text>
<text x="616.41" y="174.40" font-size="9.90" text-anchor="start" fill="#000" textLength="19.11" lengthAdjust="spacingAndGlyphs" xml:space="preserve">PAP</text>
<defs><linearGradient id="p1g" x1="0" x2="0" y1="0" y2="1"><stop offset="0" stop-color="#4b4a6e"/><stop offset="0.25" stop-color="#5c5d8a"/><stop offset="1" stop-color="#5e608e"/></linearGradient></defs>
<rect x="427.8" y="183.2" width="68.20" height="64.40" fill="url(#p1g)"/>
<rect x="434.7" y="195.4" width="53.30" height="48.60" fill="#2a2838"/>
<rect x="435.3" y="196.0" width="12.30" height="47.40" fill="#4c0a0c"/>
<rect x="448.6" y="196.0" width="12.30" height="47.40" fill="#0a0709"/>
<rect x="462.3" y="196.0" width="12.50" height="47.40" fill="#0a0709"/>
<rect x="475.6" y="196.0" width="11.80" height="47.40" fill="#0a0709"/>
<text x="441.45" y="213.80" font-size="12.60" text-anchor="middle" fill="#f2f2f2" textLength="10.29" lengthAdjust="spacingAndGlyphs" xml:space="preserve">G</text>
<text x="454.75" y="225.20" font-size="12.60" text-anchor="middle" fill="#f2f2f2" textLength="3.68" lengthAdjust="spacingAndGlyphs" xml:space="preserve">I</text>
<text x="468.55" y="240.60" font-size="12.60" text-anchor="middle" fill="#f2f2f2" textLength="8.82" lengthAdjust="spacingAndGlyphs" xml:space="preserve">S</text>
<text x="481.50" y="225.20" font-size="12.60" text-anchor="middle" fill="#f2f2f2" textLength="8.08" lengthAdjust="spacingAndGlyphs" xml:space="preserve">T</text>
<rect x="504.8" y="184.8" width="67.80" height="62.60" fill="#d3d6cb"/>
<rect x="512.6" y="195.9" width="52.60" height="47.90" fill="#c8c0a0"/>
<rect x="513.2" y="196.5" width="12.20" height="46.70" fill="#ea2210"/>
<rect x="527.0" y="196.5" width="11.20" height="46.70" fill="#1f1a11"/>
<rect x="539.8" y="196.5" width="11.70" height="46.70" fill="#1f1a11"/>
<rect x="553.4" y="196.5" width="11.20" height="46.70" fill="#1f1a11"/>
<text x="519.30" y="213.80" font-size="12.60" text-anchor="middle" fill="#f2f2f2" textLength="10.29" lengthAdjust="spacingAndGlyphs" xml:space="preserve">G</text>
<text x="532.60" y="225.20" font-size="12.60" text-anchor="middle" fill="#f2f2f2" textLength="3.68" lengthAdjust="spacingAndGlyphs" xml:space="preserve">I</text>
<text x="545.65" y="240.60" font-size="12.60" text-anchor="middle" fill="#f2f2f2" textLength="8.82" lengthAdjust="spacingAndGlyphs" xml:space="preserve">S</text>
<text x="559.00" y="225.20" font-size="12.60" text-anchor="middle" fill="#f2f2f2" textLength="8.08" lengthAdjust="spacingAndGlyphs" xml:space="preserve">T</text>
<rect x="581.9" y="184.8" width="64.90" height="62.60" fill="#d8e0df"/>
<rect x="589.6999999999999" y="196.6" width="51.20" height="47.20" fill="#b8c0c0"/>
<rect x="590.3" y="197.2" width="11.70" height="46.00" fill="#e81c12"/>
<rect x="603.4" y="197.2" width="11.20" height="46.00" fill="#0a0a0a"/>
<rect x="616.5" y="197.2" width="10.70" height="46.00" fill="#0a0a0a"/>
<rect x="629.1" y="197.2" width="11.20" height="46.00" fill="#0a0a0a"/>
<text x="596.15" y="213.80" font-size="12.60" text-anchor="middle" fill="#f2f2f2" textLength="10.29" lengthAdjust="spacingAndGlyphs" xml:space="preserve">G</text>
<text x="609.00" y="225.20" font-size="12.60" text-anchor="middle" fill="#f2f2f2" textLength="3.68" lengthAdjust="spacingAndGlyphs" xml:space="preserve">I</text>
<text x="621.85" y="240.60" font-size="12.60" text-anchor="middle" fill="#f2f2f2" textLength="8.82" lengthAdjust="spacingAndGlyphs" xml:space="preserve">S</text>
<text x="634.70" y="225.20" font-size="12.60" text-anchor="middle" fill="#f2f2f2" textLength="8.08" lengthAdjust="spacingAndGlyphs" xml:space="preserve">T</text>
<line x1="53.30" y1="338.10" x2="53.30" y2="574.15" stroke="#000" stroke-width="1.3"/>
<line x1="52.65" y1="573.50" x2="326.40" y2="573.50" stroke="#000" stroke-width="1.3"/>
<line x1="53.30" y1="338.60" x2="326.40" y2="338.60" stroke="#000" stroke-width="1.0"/>
<line x1="325.90" y1="338.60" x2="325.90" y2="573.50" stroke="#000" stroke-width="1.0"/>
<line x1="246.93" y1="573.50" x2="246.93" y2="577.80" stroke="#000" stroke-width="1.1"/>
<line x1="139.80" y1="573.50" x2="139.80" y2="577.80" stroke="#000" stroke-width="1.1"/>
<line x1="77.13" y1="573.50" x2="77.13" y2="577.80" stroke="#000" stroke-width="1.1"/>
<line x1="309.60" y1="573.50" x2="309.60" y2="576.30" stroke="#000" stroke-width="1.1"/>
<line x1="285.78" y1="573.50" x2="285.78" y2="576.30" stroke="#000" stroke-width="1.1"/>
<line x1="265.14" y1="573.50" x2="265.14" y2="576.30" stroke="#000" stroke-width="1.1"/>
<line x1="230.65" y1="573.50" x2="230.65" y2="576.30" stroke="#000" stroke-width="1.1"/>
<line x1="215.92" y1="573.50" x2="215.92" y2="576.30" stroke="#000" stroke-width="1.1"/>
<line x1="202.47" y1="573.50" x2="202.47" y2="576.30" stroke="#000" stroke-width="1.1"/>
<line x1="190.10" y1="573.50" x2="190.10" y2="576.30" stroke="#000" stroke-width="1.1"/>
<line x1="178.64" y1="573.50" x2="178.64" y2="576.30" stroke="#000" stroke-width="1.1"/>
<line x1="167.98" y1="573.50" x2="167.98" y2="576.30" stroke="#000" stroke-width="1.1"/>
<line x1="158.00" y1="573.50" x2="158.00" y2="576.30" stroke="#000" stroke-width="1.1"/>
<line x1="148.63" y1="573.50" x2="148.63" y2="576.30" stroke="#000" stroke-width="1.1"/>
<line x1="131.44" y1="573.50" x2="131.44" y2="576.30" stroke="#000" stroke-width="1.1"/>
<line x1="123.51" y1="573.50" x2="123.51" y2="576.30" stroke="#000" stroke-width="1.1"/>
<line x1="115.97" y1="573.50" x2="115.97" y2="576.30" stroke="#000" stroke-width="1.1"/>
<line x1="108.78" y1="573.50" x2="108.78" y2="576.30" stroke="#000" stroke-width="1.1"/>
<line x1="101.91" y1="573.50" x2="101.91" y2="576.30" stroke="#000" stroke-width="1.1"/>
<line x1="95.33" y1="573.50" x2="95.33" y2="576.30" stroke="#000" stroke-width="1.1"/>
<line x1="89.02" y1="573.50" x2="89.02" y2="576.30" stroke="#000" stroke-width="1.1"/>
<line x1="82.96" y1="573.50" x2="82.96" y2="576.30" stroke="#000" stroke-width="1.1"/>
<line x1="71.51" y1="573.50" x2="71.51" y2="576.30" stroke="#000" stroke-width="1.1"/>
<line x1="66.08" y1="573.50" x2="66.08" y2="576.30" stroke="#000" stroke-width="1.1"/>
<line x1="60.84" y1="573.50" x2="60.84" y2="576.30" stroke="#000" stroke-width="1.1"/>
<line x1="55.77" y1="573.50" x2="55.77" y2="576.30" stroke="#000" stroke-width="1.1"/>
<line x1="49.00" y1="554.10" x2="53.30" y2="554.10" stroke="#000" stroke-width="1.1"/>
<line x1="49.00" y1="488.60" x2="53.30" y2="488.60" stroke="#000" stroke-width="1.1"/>
<line x1="49.00" y1="423.10" x2="53.30" y2="423.10" stroke="#000" stroke-width="1.1"/>
<line x1="49.00" y1="357.60" x2="53.30" y2="357.60" stroke="#000" stroke-width="1.1"/>
<line x1="50.50" y1="573.82" x2="53.30" y2="573.82" stroke="#000" stroke-width="1.1"/>
<line x1="50.50" y1="568.63" x2="53.30" y2="568.63" stroke="#000" stroke-width="1.1"/>
<line x1="50.50" y1="564.25" x2="53.30" y2="564.25" stroke="#000" stroke-width="1.1"/>
<line x1="50.50" y1="560.45" x2="53.30" y2="560.45" stroke="#000" stroke-width="1.1"/>
<line x1="50.50" y1="557.10" x2="53.30" y2="557.10" stroke="#000" stroke-width="1.1"/>
<line x1="50.50" y1="534.38" x2="53.30" y2="534.38" stroke="#000" stroke-width="1.1"/>
<line x1="50.50" y1="522.85" x2="53.30" y2="522.85" stroke="#000" stroke-width="1.1"/>
<line x1="50.50" y1="514.67" x2="53.30" y2="514.67" stroke="#000" stroke-width="1.1"/>
<line x1="50.50" y1="508.32" x2="53.30" y2="508.32" stroke="#000" stroke-width="1.1"/>
<line x1="50.50" y1="503.13" x2="53.30" y2="503.13" stroke="#000" stroke-width="1.1"/>
<line x1="50.50" y1="498.75" x2="53.30" y2="498.75" stroke="#000" stroke-width="1.1"/>
<line x1="50.50" y1="494.95" x2="53.30" y2="494.95" stroke="#000" stroke-width="1.1"/>
<line x1="50.50" y1="491.60" x2="53.30" y2="491.60" stroke="#000" stroke-width="1.1"/>
<line x1="50.50" y1="468.88" x2="53.30" y2="468.88" stroke="#000" stroke-width="1.1"/>
<line x1="50.50" y1="457.35" x2="53.30" y2="457.35" stroke="#000" stroke-width="1.1"/>
<line x1="50.50" y1="449.17" x2="53.30" y2="449.17" stroke="#000" stroke-width="1.1"/>
<line x1="50.50" y1="442.82" x2="53.30" y2="442.82" stroke="#000" stroke-width="1.1"/>
<line x1="50.50" y1="437.63" x2="53.30" y2="437.63" stroke="#000" stroke-width="1.1"/>
<line x1="50.50" y1="433.25" x2="53.30" y2="433.25" stroke="#000" stroke-width="1.1"/>
<line x1="50.50" y1="429.45" x2="53.30" y2="429.45" stroke="#000" stroke-width="1.1"/>
<line x1="50.50" y1="426.10" x2="53.30" y2="426.10" stroke="#000" stroke-width="1.1"/>
<line x1="50.50" y1="403.38" x2="53.30" y2="403.38" stroke="#000" stroke-width="1.1"/>
<line x1="50.50" y1="391.85" x2="53.30" y2="391.85" stroke="#000" stroke-width="1.1"/>
<line x1="50.50" y1="383.67" x2="53.30" y2="383.67" stroke="#000" stroke-width="1.1"/>
<line x1="50.50" y1="377.32" x2="53.30" y2="377.32" stroke="#000" stroke-width="1.1"/>
<line x1="50.50" y1="372.13" x2="53.30" y2="372.13" stroke="#000" stroke-width="1.1"/>
<line x1="50.50" y1="367.75" x2="53.30" y2="367.75" stroke="#000" stroke-width="1.1"/>
<line x1="50.50" y1="363.95" x2="53.30" y2="363.95" stroke="#000" stroke-width="1.1"/>
<line x1="50.50" y1="360.60" x2="53.30" y2="360.60" stroke="#000" stroke-width="1.1"/>
<line x1="50.50" y1="337.88" x2="53.30" y2="337.88" stroke="#000" stroke-width="1.1"/>
<text x="246.93" y="591.80" font-size="11.80" text-anchor="middle" fill="#000" textLength="6.96" lengthAdjust="spacingAndGlyphs" xml:space="preserve">1</text>
<text x="139.80" y="591.80" font-size="11.80" text-anchor="middle" fill="#000" textLength="6.96" lengthAdjust="spacingAndGlyphs" xml:space="preserve">2</text>
<text x="77.13" y="591.80" font-size="11.80" text-anchor="middle" fill="#000" textLength="6.96" lengthAdjust="spacingAndGlyphs" xml:space="preserve">3</text>
<text x="39.33" y="361.90" font-size="11.80" text-anchor="end" fill="#000" textLength="13.91" lengthAdjust="spacingAndGlyphs" xml:space="preserve">10</text>
<text x="39.63" y="357.00" font-size="8.80" text-anchor="start" fill="#000" textLength="5.09" lengthAdjust="spacingAndGlyphs" xml:space="preserve">3</text>
<text x="39.33" y="427.80" font-size="11.80" text-anchor="end" fill="#000" textLength="13.91" lengthAdjust="spacingAndGlyphs" xml:space="preserve">10</text>
<text x="39.53" y="423.10" font-size="8.80" text-anchor="start" fill="#000" textLength="5.26" lengthAdjust="spacingAndGlyphs" xml:space="preserve">2</text>
<text x="39.33" y="493.80" font-size="11.80" text-anchor="end" fill="#000" textLength="13.91" lengthAdjust="spacingAndGlyphs" xml:space="preserve">10</text>
<text x="40.21" y="489.10" font-size="8.80" text-anchor="start" fill="#000" textLength="3.62" lengthAdjust="spacingAndGlyphs" xml:space="preserve">1</text>
<text x="39.33" y="560.00" font-size="11.80" text-anchor="end" fill="#000" textLength="13.91" lengthAdjust="spacingAndGlyphs" xml:space="preserve">10</text>
<text x="39.64" y="555.30" font-size="8.80" text-anchor="start" fill="#000" textLength="5.03" lengthAdjust="spacingAndGlyphs" xml:space="preserve">0</text>
<text x="0.57" y="336.70" font-size="21.00" text-anchor="start" font-weight="bold" fill="#000" textLength="11.58" lengthAdjust="spacingAndGlyphs" xml:space="preserve">c</text>
<text x="10.80" y="478.77" font-size="11.90" text-anchor="start" font-style="italic" fill="#000" transform="rotate(-90 10.80 478.77)" textLength="21.27" lengthAdjust="spacingAndGlyphs" xml:space="preserve">R/R</text>
<text x="15.30" y="457.56" font-size="8.60" text-anchor="start" fill="#000" transform="rotate(-90 15.30 457.56)" textLength="22.33" lengthAdjust="spacingAndGlyphs" xml:space="preserve">Initial</text>
<text x="127.87" y="611.50" font-size="11.80" text-anchor="start" fill="#000" textLength="119.32" lengthAdjust="spacingAndGlyphs" xml:space="preserve">Bending radius (mm)</text>
<defs><filter id="bl1" x="-5%" y="-5%" width="110%" height="110%"><feGaussianBlur stdDeviation="0.9"/></filter>
<clipPath id="cp1"><rect x="59.1" y="453.6" width="58.6" height="86.6"/></clipPath></defs>
<g clip-path="url(#cp1)"><g filter="url(#bl1)">
<rect x="56" y="450" width="65" height="95" fill="#92c0a6"/>
<rect x="78" y="450" width="21" height="44" fill="#9cc6ae"/>
<path d="M62,455 C71,456 78,462 80.5,471 L80.5,486 L77.5,486 L77,472 C74.5,466 69,461 62,458.8 Z" fill="#9cbc62"/>
<path d="M107,455 C101,456 98,462 96.5,471 L96.5,488 L99.5,488 L100,472 C101.5,466 104,461 109,458.8 Z" fill="#9cbc62"/>
<rect x="56" y="463.8" width="21" height="8" fill="#1c4228"/>
<rect x="99" y="463.8" width="22" height="8" fill="#1c4228"/>
<rect x="64" y="465.5" width="7" height="2.4" fill="#c8e4c8"/>
<rect x="104" y="465.5" width="7" height="2.4" fill="#b8d8b8"/>
<rect x="56" y="471.6" width="21" height="2.6" fill="#3e6e58"/>
<rect x="99" y="471.6" width="22" height="2.6" fill="#3e6e58"/>
<rect x="56" y="474.2" width="21" height="4.5" fill="#9ccab4"/>
<rect x="99" y="474.2" width="22" height="4.5" fill="#9ccab4"/>
<rect x="56" y="478.7" width="21" height="12" fill="#4a805e"/>
<rect x="99" y="478.7" width="22" height="12" fill="#4a8260"/>
<rect x="56" y="490.6" width="21" height="4.4" fill="#d2ecdc"/>
<rect x="99" y="490.6" width="22" height="4.4" fill="#d8f0e2"/>
<rect x="56" y="495.0" width="21" height="12" fill="#224a40"/>
<rect x="99" y="495.0" width="22" height="28.8" fill="#3c7a54"/>
<path d="M77,487 C82,478 85,474.3 88,474.3 C91,474.3 95,480 100,488 L100,493 L77,493 Z" fill="#b6dac6"/>
<rect x="77" y="492" width="22" height="8.5" fill="#1c2414"/>
<rect x="77" y="500.6" width="21" height="3.2" fill="#bcd8c4"/>
<rect x="77" y="504" width="23" height="7.2" fill="#1a2012"/>
<rect x="78.6" y="511.2" width="21.5" height="12.4" fill="#5a9a7c"/>
<rect x="56" y="507" width="22.6" height="36" fill="#4c280a"/>
<rect x="61" y="518" width="13" height="16" fill="#2e1606" opacity="0.7"/>
<rect x="78.6" y="523.7" width="42" height="3.6" fill="#aaa84a"/>
<rect x="78.6" y="527.3" width="42" height="16" fill="#6c3208"/>
<rect x="103" y="530" width="9" height="9" fill="#3e1c06" opacity="0.7"/>
</g>
<path d="M77.1,485.5 C81,478 84.5,474.3 87.8,474.3 C91.5,474.3 95.5,480 100,487.4" fill="none" stroke="#14241c" stroke-width="0.9"/>
</g>
<defs><filter id="bl2" x="-2%" y="-2%" width="104%" height="104%"><feGaussianBlur stdDeviation="0.45"/></filter><clipPath id="cp2"><rect x="124.0" y="453.5" width="96" height="86.7"/></clipPath></defs>
<g clip-path="url(#cp2)"><g filter="url(#bl2)">
<defs><linearGradient id="itog" x1="0" x2="1" y1="0" y2="0"><stop offset="0" stop-color="#c2d59c"/><stop offset="0.6" stop-color="#c4d69e"/><stop offset="1" stop-color="#b4c890"/></linearGradient></defs>
<rect x="122" y="452" width="100" height="90" fill="url(#itog)"/>
<rect x="125.50" y="452" width="0.66" height="90" fill="#98b078" opacity="0.30"/>
<rect x="129.27" y="452" width="0.54" height="90" fill="#98b078" opacity="0.44"/>
<rect x="132.53" y="452" width="0.53" height="90" fill="#98b078" opacity="0.43"/>
<rect x="135.20" y="452" width="0.72" height="90" fill="#98b078" opacity="0.27"/>
<rect x="137.96" y="452" width="0.71" height="90" fill="#98b078" opacity="0.54"/>
<rect x="140.78" y="452" width="0.61" height="90" fill="#98b078" opacity="0.47"/>
<rect x="145.09" y="452" width="0.79" height="90" fill="#98b078" opacity="0.39"/>
<rect x="149.45" y="452" width="0.52" height="90" fill="#98b078" opacity="0.55"/>
<rect x="152.57" y="452" width="0.57" height="90" fill="#98b078" opacity="0.29"/>
<rect x="155.72" y="452" width="0.91" height="90" fill="#98b078" opacity="0.31"/>
<rect x="159.37" y="452" width="0.82" height="90" fill="#98b078" opacity="0.38"/>
<rect x="162.96" y="452" width="0.53" height="90" fill="#98b078" opacity="0.27"/>
<rect x="165.93" y="452" width="0.84" height="90" fill="#98b078" opacity="0.40"/>
<rect x="169.09" y="452" width="0.79" height="90" fill="#98b078" opacity="0.41"/>
<rect x="172.23" y="452" width="0.90" height="90" fill="#98b078" opacity="0.49"/>
<rect x="175.27" y="452" width="0.79" height="90" fill="#98b078" opacity="0.43"/>
<rect x="179.45" y="452" width="0.86" height="90" fill="#98b078" opacity="0.35"/>
<rect x="183.81" y="452" width="0.56" height="90" fill="#98b078" opacity="0.40"/>
<rect x="187.77" y="452" width="0.58" height="90" fill="#98b078" opacity="0.42"/>
<rect x="190.44" y="452" width="0.83" height="90" fill="#98b078" opacity="0.52"/>
<rect x="194.08" y="452" width="0.94" height="90" fill="#98b078" opacity="0.36"/>
<rect x="197.93" y="452" width="0.80" height="90" fill="#98b078" opacity="0.45"/>
<rect x="201.35" y="452" width="0.92" height="90" fill="#98b078" opacity="0.58"/>
<rect x="204.80" y="452" width="0.83" height="90" fill="#98b078" opacity="0.27"/>
<rect x="208.66" y="452" width="0.82" height="90" fill="#98b078" opacity="0.60"/>
<rect x="212.74" y="452" width="0.64" height="90" fill="#98b078" opacity="0.39"/>
<rect x="216.55" y="452" width="0.51" height="90" fill="#98b078" opacity="0.41"/>
<rect x="219.45" y="452" width="0.56" height="90" fill="#98b078" opacity="0.27"/>
<line x1="128.3" y1="452" x2="128.3" y2="542" stroke="#5a6c48" stroke-width="0.6" opacity="0.55"/>
<line x1="128.3" y1="452" x2="128.3" y2="542" stroke="#3a4a2c" stroke-width="0.9" stroke-dasharray="3 4 6 3 2 5" stroke-dashoffset="1.1" opacity="0.55"/>
<line x1="151.7" y1="452" x2="151.7" y2="542" stroke="#5a6c48" stroke-width="0.6" opacity="0.55"/>
<line x1="151.7" y1="452" x2="151.7" y2="542" stroke="#3a4a2c" stroke-width="0.9" stroke-dasharray="3 4 6 3 2 5" stroke-dashoffset="8.9" opacity="0.55"/>
<line x1="165.5" y1="452" x2="165.5" y2="542" stroke="#5a6c48" stroke-width="0.6" opacity="0.55"/>
<line x1="165.5" y1="452" x2="165.5" y2="542" stroke="#3a4a2c" stroke-width="0.9" stroke-dasharray="3 4 6 3 2 5" stroke-dashoffset="1.5" opacity="0.55"/>
<line x1="184.6" y1="452" x2="184.6" y2="542" stroke="#5a6c48" stroke-width="0.6" opacity="0.55"/>
<line x1="184.6" y1="452" x2="184.6" y2="542" stroke="#3a4a2c" stroke-width="0.9" stroke-dasharray="3 4 6 3 2 5" stroke-dashoffset="5.2" opacity="0.55"/>
<line x1="191.7" y1="452" x2="191.7" y2="542" stroke="#5a6c48" stroke-width="0.6" opacity="0.55"/>
<line x1="191.7" y1="452" x2="191.7" y2="542" stroke="#3a4a2c" stroke-width="0.9" stroke-dasharray="3 4 6 3 2 5" stroke-dashoffset="2.9" opacity="0.55"/>
<line x1="205.3" y1="452" x2="205.3" y2="542" stroke="#5a6c48" stroke-width="0.6" opacity="0.55"/>
<line x1="205.3" y1="452" x2="205.3" y2="542" stroke="#3a4a2c" stroke-width="0.9" stroke-dasharray="3 4 6 3 2 5" stroke-dashoffset="7.1" opacity="0.55"/>
<line x1="212.6" y1="452" x2="212.6" y2="542" stroke="#5a6c48" stroke-width="0.6" opacity="0.55"/>
<line x1="212.6" y1="452" x2="212.6" y2="542" stroke="#3a4a2c" stroke-width="0.9" stroke-dasharray="3 4 6 3 2 5" stroke-dashoffset="6.2" opacity="0.55"/>
</g></g>
<text x="129.64" y="468.40" font-size="11.90" text-anchor="start" fill="#000" textLength="21.18" lengthAdjust="spacingAndGlyphs" xml:space="preserve">ITO</text>
<rect x="191.2" y="534.0" width="23.1" height="2.1" fill="#000"/>
<defs><linearGradient id="papg" x1="0" x2="1" y1="0" y2="0">
<stop offset="0" stop-color="#a8b977"/><stop offset="0.45" stop-color="#a7b875"/><stop offset="0.78" stop-color="#9aac6c"/><stop offset="1" stop-color="#88995e"/></linearGradient></defs>
<rect x="224.0" y="453.5" width="95.1" height="86.7" fill="url(#papg)"/>
<text x="227.83" y="468.60" font-size="11.90" text-anchor="start" fill="#000" textLength="23.40" lengthAdjust="spacingAndGlyphs" xml:space="preserve">PAP</text>
<rect x="289.9" y="534.0" width="23.6" height="2.1" fill="#000"/>
<polyline points="72.00,429.40 98.90,406.40 147.30,394.70 173.90,385.60 231.90,376.60 246.50,372.80 291.10,368.60 303.80,364.20" fill="none" stroke="#000" stroke-width="0.7" stroke-linejoin="round"/>
<polyline points="72.00,553.50 98.90,553.50 147.30,553.50 173.90,553.50 231.90,553.50 246.50,553.50 291.10,553.50 303.80,553.50" fill="none" stroke="#dc1010" stroke-width="0.7" stroke-linejoin="round"/>
<rect x="68.50" y="425.90" width="7.0" height="7.0" fill="#000"/>
<rect x="95.40" y="402.90" width="7.0" height="7.0" fill="#000"/>
<rect x="143.80" y="391.20" width="7.0" height="7.0" fill="#000"/>
<rect x="170.40" y="382.10" width="7.0" height="7.0" fill="#000"/>
<rect x="228.40" y="373.10" width="7.0" height="7.0" fill="#000"/>
<rect x="243.00" y="369.30" width="7.0" height="7.0" fill="#000"/>
<rect x="287.60" y="365.10" width="7.0" height="7.0" fill="#000"/>
<rect x="300.30" y="360.70" width="7.0" height="7.0" fill="#000"/>
<circle cx="72.00" cy="553.50" r="4.2" fill="#f20000"/>
<circle cx="98.90" cy="553.50" r="4.2" fill="#f20000"/>
<circle cx="147.30" cy="553.50" r="4.2" fill="#f20000"/>
<circle cx="173.90" cy="553.50" r="4.2" fill="#f20000"/>
<circle cx="231.90" cy="553.50" r="4.2" fill="#f20000"/>
<circle cx="246.50" cy="553.50" r="4.2" fill="#f20000"/>
<circle cx="291.10" cy="553.50" r="4.2" fill="#f20000"/>
<circle cx="303.80" cy="553.50" r="4.2" fill="#f20000"/>
<line x1="61.10" y1="352.30" x2="92.10" y2="352.30" stroke="#000" stroke-width="0.7"/>
<rect x="73.20" y="348.90" width="6.8" height="6.8" fill="#000"/>
<line x1="61.10" y1="370.20" x2="92.10" y2="370.20" stroke="#dc1010" stroke-width="0.7"/>
<circle cx="76.60" cy="370.20" r="4.1" fill="#f20000"/>
<text x="95.15" y="356.80" font-size="12.00" text-anchor="start" fill="#000" textLength="21.07" lengthAdjust="spacingAndGlyphs" xml:space="preserve">ITO</text>
<text x="95.32" y="374.40" font-size="12.00" text-anchor="start" fill="#000" textLength="23.72" lengthAdjust="spacingAndGlyphs" xml:space="preserve">PAP</text>
<line x1="402.50" y1="338.00" x2="402.50" y2="573.85" stroke="#000" stroke-width="1.3"/>
<line x1="401.85" y1="573.20" x2="674.40" y2="573.20" stroke="#000" stroke-width="1.3"/>
<line x1="402.50" y1="338.50" x2="674.40" y2="338.50" stroke="#000" stroke-width="1.0"/>
<line x1="673.90" y1="338.50" x2="673.90" y2="573.20" stroke="#000" stroke-width="1.0"/>
<line x1="414.70" y1="573.20" x2="414.70" y2="577.70" stroke="#000" stroke-width="1.1"/>
<line x1="464.02" y1="573.20" x2="464.02" y2="577.70" stroke="#000" stroke-width="1.1"/>
<line x1="513.34" y1="573.20" x2="513.34" y2="577.70" stroke="#000" stroke-width="1.1"/>
<line x1="562.66" y1="573.20" x2="562.66" y2="577.70" stroke="#000" stroke-width="1.1"/>
<line x1="611.98" y1="573.20" x2="611.98" y2="577.70" stroke="#000" stroke-width="1.1"/>
<line x1="661.30" y1="573.20" x2="661.30" y2="577.70" stroke="#000" stroke-width="1.1"/>
<line x1="439.36" y1="573.20" x2="439.36" y2="575.70" stroke="#000" stroke-width="1.1"/>
<line x1="488.68" y1="573.20" x2="488.68" y2="575.70" stroke="#000" stroke-width="1.1"/>
<line x1="538.00" y1="573.20" x2="538.00" y2="575.70" stroke="#000" stroke-width="1.1"/>
<line x1="587.32" y1="573.20" x2="587.32" y2="575.70" stroke="#000" stroke-width="1.1"/>
<line x1="636.64" y1="573.20" x2="636.64" y2="575.70" stroke="#000" stroke-width="1.1"/>
<line x1="398.00" y1="552.50" x2="402.50" y2="552.50" stroke="#000" stroke-width="1.1"/>
<line x1="398.00" y1="459.40" x2="402.50" y2="459.40" stroke="#000" stroke-width="1.1"/>
<line x1="398.00" y1="366.30" x2="402.50" y2="366.30" stroke="#000" stroke-width="1.1"/>
<line x1="400.00" y1="573.15" x2="402.50" y2="573.15" stroke="#000" stroke-width="1.1"/>
<line x1="400.00" y1="566.92" x2="402.50" y2="566.92" stroke="#000" stroke-width="1.1"/>
<line x1="400.00" y1="561.52" x2="402.50" y2="561.52" stroke="#000" stroke-width="1.1"/>
<line x1="400.00" y1="556.76" x2="402.50" y2="556.76" stroke="#000" stroke-width="1.1"/>
<line x1="400.00" y1="524.47" x2="402.50" y2="524.47" stroke="#000" stroke-width="1.1"/>
<line x1="400.00" y1="508.08" x2="402.50" y2="508.08" stroke="#000" stroke-width="1.1"/>
<line x1="400.00" y1="496.45" x2="402.50" y2="496.45" stroke="#000" stroke-width="1.1"/>
<line x1="400.00" y1="487.43" x2="402.50" y2="487.43" stroke="#000" stroke-width="1.1"/>
<line x1="400.00" y1="480.05" x2="402.50" y2="480.05" stroke="#000" stroke-width="1.1"/>
<line x1="400.00" y1="473.82" x2="402.50" y2="473.82" stroke="#000" stroke-width="1.1"/>
<line x1="400.00" y1="468.42" x2="402.50" y2="468.42" stroke="#000" stroke-width="1.1"/>
<line x1="400.00" y1="463.66" x2="402.50" y2="463.66" stroke="#000" stroke-width="1.1"/>
<line x1="400.00" y1="431.37" x2="402.50" y2="431.37" stroke="#000" stroke-width="1.1"/>
<line x1="400.00" y1="414.98" x2="402.50" y2="414.98" stroke="#000" stroke-width="1.1"/>
<line x1="400.00" y1="403.35" x2="402.50" y2="403.35" stroke="#000" stroke-width="1.1"/>
<line x1="400.00" y1="394.33" x2="402.50" y2="394.33" stroke="#000" stroke-width="1.1"/>
<line x1="400.00" y1="386.95" x2="402.50" y2="386.95" stroke="#000" stroke-width="1.1"/>
<line x1="400.00" y1="380.72" x2="402.50" y2="380.72" stroke="#000" stroke-width="1.1"/>
<line x1="400.00" y1="375.32" x2="402.50" y2="375.32" stroke="#000" stroke-width="1.1"/>
<line x1="400.00" y1="370.56" x2="402.50" y2="370.56" stroke="#000" stroke-width="1.1"/>
<line x1="400.00" y1="338.27" x2="402.50" y2="338.27" stroke="#000" stroke-width="1.1"/>
<text x="414.70" y="591.80" font-size="11.80" text-anchor="middle" fill="#000" textLength="6.96" lengthAdjust="spacingAndGlyphs" xml:space="preserve">0</text>
<text x="464.02" y="591.80" font-size="11.80" text-anchor="middle" fill="#000" textLength="20.87" lengthAdjust="spacingAndGlyphs" xml:space="preserve">200</text>
<text x="513.34" y="591.80" font-size="11.80" text-anchor="middle" fill="#000" textLength="20.87" lengthAdjust="spacingAndGlyphs" xml:space="preserve">400</text>
<text x="562.66" y="591.80" font-size="11.80" text-anchor="middle" fill="#000" textLength="20.87" lengthAdjust="spacingAndGlyphs" xml:space="preserve">600</text>
<text x="611.98" y="591.80" font-size="11.80" text-anchor="middle" fill="#000" textLength="20.87" lengthAdjust="spacingAndGlyphs" xml:space="preserve">800</text>
<text x="661.30" y="591.80" font-size="11.80" text-anchor="middle" fill="#000" textLength="31.30" lengthAdjust="spacingAndGlyphs" xml:space="preserve">1,000</text>
<text x="394.34" y="556.00" font-size="11.80" text-anchor="end" fill="#000" textLength="6.96" lengthAdjust="spacingAndGlyphs" xml:space="preserve">1</text>
<text x="394.23" y="463.70" font-size="11.80" text-anchor="end" fill="#000" textLength="13.91" lengthAdjust="spacingAndGlyphs" xml:space="preserve">10</text>
<text x="394.24" y="370.50" font-size="11.80" text-anchor="end" fill="#000" textLength="20.87" lengthAdjust="spacingAndGlyphs" xml:space="preserve">100</text>
<text x="363.70" y="478.08" font-size="11.90" text-anchor="start" font-style="italic" fill="#000" transform="rotate(-90 363.70 478.08)" textLength="21.79" lengthAdjust="spacingAndGlyphs" xml:space="preserve">R/R</text>
<text x="368.20" y="456.64" font-size="8.60" text-anchor="start" fill="#000" transform="rotate(-90 368.20 456.64)" textLength="21.79" lengthAdjust="spacingAndGlyphs" xml:space="preserve">Initial</text>
<text x="486.17" y="611.40" font-size="11.80" text-anchor="start" fill="#000" textLength="98.49" lengthAdjust="spacingAndGlyphs" xml:space="preserve">Number of bends</text>
<text x="352.67" y="336.80" font-size="20.50" text-anchor="start" font-weight="bold" fill="#000" textLength="14.27" lengthAdjust="spacingAndGlyphs" xml:space="preserve">d</text>
<polyline points="414.70,552.30 427.03,447.10 439.36,432.40 464.02,414.40 488.68,399.70 513.34,389.40 538.00,383.30 562.66,373.50 587.32,371.10 611.98,366.50 636.64,368.70 661.30,363.00" fill="none" stroke="#000" stroke-width="0.7" stroke-linejoin="round"/>
<polyline points="414.70,552.30 427.03,552.10 439.36,551.90 464.02,555.60 488.68,552.10 513.34,556.30 538.00,552.60 562.66,552.60 587.32,552.00 611.98,556.00 636.64,553.80 661.30,554.90" fill="none" stroke="#dc1010" stroke-width="0.7" stroke-linejoin="round"/>
<rect x="411.20" y="548.80" width="7.0" height="7.0" fill="#000"/>
<rect x="423.53" y="443.60" width="7.0" height="7.0" fill="#000"/>
<rect x="435.86" y="428.90" width="7.0" height="7.0" fill="#000"/>
<rect x="460.52" y="410.90" width="7.0" height="7.0" fill="#000"/>
<rect x="485.18" y="396.20" width="7.0" height="7.0" fill="#000"/>
<rect x="509.84" y="385.90" width="7.0" height="7.0" fill="#000"/>
<rect x="534.50" y="379.80" width="7.0" height="7.0" fill="#000"/>
<rect x="559.16" y="370.00" width="7.0" height="7.0" fill="#000"/>
<rect x="583.82" y="367.60" width="7.0" height="7.0" fill="#000"/>
<rect x="608.48" y="363.00" width="7.0" height="7.0" fill="#000"/>
<rect x="633.14" y="365.20" width="7.0" height="7.0" fill="#000"/>
<rect x="657.80" y="359.50" width="7.0" height="7.0" fill="#000"/>
<circle cx="414.70" cy="552.30" r="4.2" fill="#f20000"/>
<circle cx="427.03" cy="552.10" r="4.2" fill="#f20000"/>
<circle cx="439.36" cy="551.90" r="4.2" fill="#f20000"/>
<circle cx="464.02" cy="555.60" r="4.2" fill="#f20000"/>
<circle cx="488.68" cy="552.10" r="4.2" fill="#f20000"/>
<circle cx="513.34" cy="556.30" r="4.2" fill="#f20000"/>
<circle cx="538.00" cy="552.60" r="4.2" fill="#f20000"/>
<circle cx="562.66" cy="552.60" r="4.2" fill="#f20000"/>
<circle cx="587.32" cy="552.00" r="4.2" fill="#f20000"/>
<circle cx="611.98" cy="556.00" r="4.2" fill="#f20000"/>
<circle cx="636.64" cy="553.80" r="4.2" fill="#f20000"/>
<circle cx="661.30" cy="554.90" r="4.2" fill="#f20000"/>
<line x1="596.90" y1="510.70" x2="627.80" y2="510.70" stroke="#000" stroke-width="0.7"/>
<rect x="608.90" y="507.30" width="6.8" height="6.8" fill="#000"/>
<line x1="596.90" y1="527.80" x2="627.80" y2="527.80" stroke="#dc1010" stroke-width="0.7"/>
<circle cx="612.30" cy="527.80" r="4.2" fill="#f20000"/>
<text x="630.08" y="514.60" font-size="12.00" text-anchor="start" fill="#000" textLength="20.52" lengthAdjust="spacingAndGlyphs" xml:space="preserve">ITO</text>
<text x="630.27" y="531.70" font-size="12.00" text-anchor="start" fill="#000" textLength="22.33" lengthAdjust="spacingAndGlyphs" xml:space="preserve">PAP</text>
</svg>
</body></html>
